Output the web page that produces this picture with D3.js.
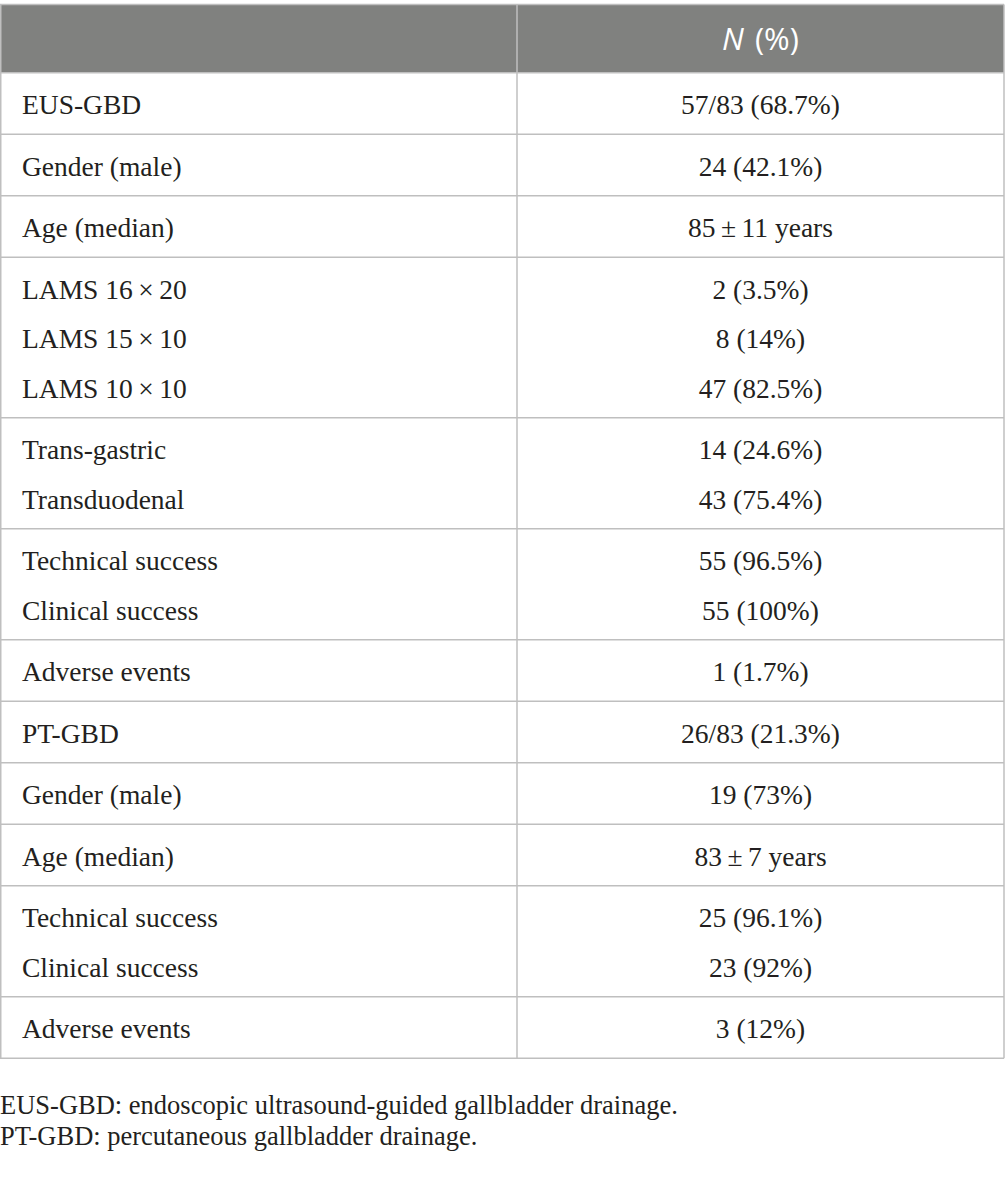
<!DOCTYPE html>
<html>
<head>
<meta charset="utf-8">
<script src="https://cdn.jsdelivr.net/npm/d3@7"></script>
<style>
  body { margin: 0; background: #fff; }
  .cell { font-family: "Liberation Serif", "DejaVu Serif", serif; font-size: 27.5px; fill: #231f20; }
  .head { font-family: "Open Sans", "Noto Sans", sans-serif; font-size: 31px; fill: #fff; word-spacing: 3px; }
  .note { font-family: "Liberation Serif", serif; font-size: 26.5px; fill: #231f20; }
</style>
</head>
<body>
<div id="table"></div>
<script>
// rows are grouped; each group sits between two rules
var rowLabels = [
  ["EUS-GBD"],
  ["Gender (male)"],
  ["Age (median)"],
  ["LAMS 16\u2009\u00d7\u200920", "LAMS 15\u2009\u00d7\u200910", "LAMS 10\u2009\u00d7\u200910"],
  ["Trans-gastric", "Transduodenal"],
  ["Technical success", "Clinical success"],
  ["Adverse events"],
  ["PT-GBD"],
  ["Gender (male)"],
  ["Age (median)"],
  ["Technical success", "Clinical success"],
  ["Adverse events"]
]
var rowValues = [
  ["57/83 (68.7%)"],
  ["24 (42.1%)"],
  ["85\u2009\u00b1\u200911 years"],
  ["2 (3.5%)", "8 (14%)", "47 (82.5%)"],
  ["14 (24.6%)", "43 (75.4%)"],
  ["55 (96.5%)", "55 (100%)"],
  ["1 (1.7%)"],
  ["26/83 (21.3%)"],
  ["19 (73%)"],
  ["83\u2009\u00b1\u20097 years"],
  ["25 (96.1%)", "23 (92%)"],
  ["3 (12%)"]
]
var notes = [
  "EUS-GBD: endoscopic ultrasound-guided gallbladder drainage.",
  "PT-GBD: percutaneous gallbladder drainage."
]

var W = 1005, H = 1199
var top0 = 4.5, headH = 68.2, rowH = 61.5, lineH = 49.5
var colX = [0, 517, 1004]

var svg = d3.select("#table").append("svg")
  .attr("width", W)
  .attr("height", H)

// group tops
var groups = []
var y = top0 + headH
rowLabels.forEach(function(lbls, i){
  var h = rowH + lineH * (lbls.length - 1)
  groups.push({y: y, h: h, labels: lbls, values: rowValues[i]})
  y += h
})
var bottom = y

svg.append("rect")
  .attr("x", colX[0]).attr("y", top0)
  .attr("width", colX[2] - colX[0]).attr("height", headH)
  .attr("fill", "#80817f")

svg.append("text")
  .attr("class", "head")
  .attr("x", (colX[1] + colX[2]) / 2)
  .attr("y", top0 + headH / 2)
  .attr("dy", "0.36em")
  .attr("text-anchor", "middle")
  .html('<tspan font-style="italic">N</tspan> (%)')

var rules = svg.append("g").attr("stroke", "#bfbfbf").attr("stroke-width", 1.5)

rules.selectAll("line.h")
  .data([top0, top0 + headH].concat(groups.map(function(g){ return g.y + g.h })))
  .enter().append("line")
    .attr("class", "h")
    .attr("x1", colX[0]).attr("x2", colX[2])
    .attr("y1", function(d){ return d }).attr("y2", function(d){ return d })

rules.selectAll("line.v")
  .data(colX)
  .enter().append("line")
    .attr("class", "v")
    .attr("x1", function(d, i){ return i == 0 ? 0.75 : d })
    .attr("x2", function(d, i){ return i == 0 ? 0.75 : d })
    .attr("y1", top0).attr("y2", bottom)

var g = svg.selectAll("g.grp")
  .data(groups)
  .enter().append("g")
    .attr("class", "grp")
    .attr("transform", function(d){ return "translate(0," + d.y + ")" })

g.selectAll("text.lbl")
  .data(function(d){ return d.labels })
  .enter().append("text")
    .attr("class", "cell lbl")
    .attr("x", 22)
    .attr("y", function(d, i){ return 32 + i * lineH })
    .attr("dy", "0.35em")
    .text(function(d){ return d })

g.selectAll("text.val")
  .data(function(d){ return d.values })
  .enter().append("text")
    .attr("class", "cell val")
    .attr("x", (colX[1] + colX[2]) / 2)
    .attr("y", function(d, i){ return 32 + i * lineH })
    .attr("dy", "0.35em")
    .attr("text-anchor", "middle")
    .text(function(d){ return d })

svg.selectAll("text.note")
  .data(notes)
  .enter().append("text")
    .attr("class", "note")
    .attr("x", 0)
    .attr("y", function(d, i){ return 1105 + i * 31 })
    .attr("dy", "0.35em")
    .text(function(d){ return d })
</script>
</body>
</html>
